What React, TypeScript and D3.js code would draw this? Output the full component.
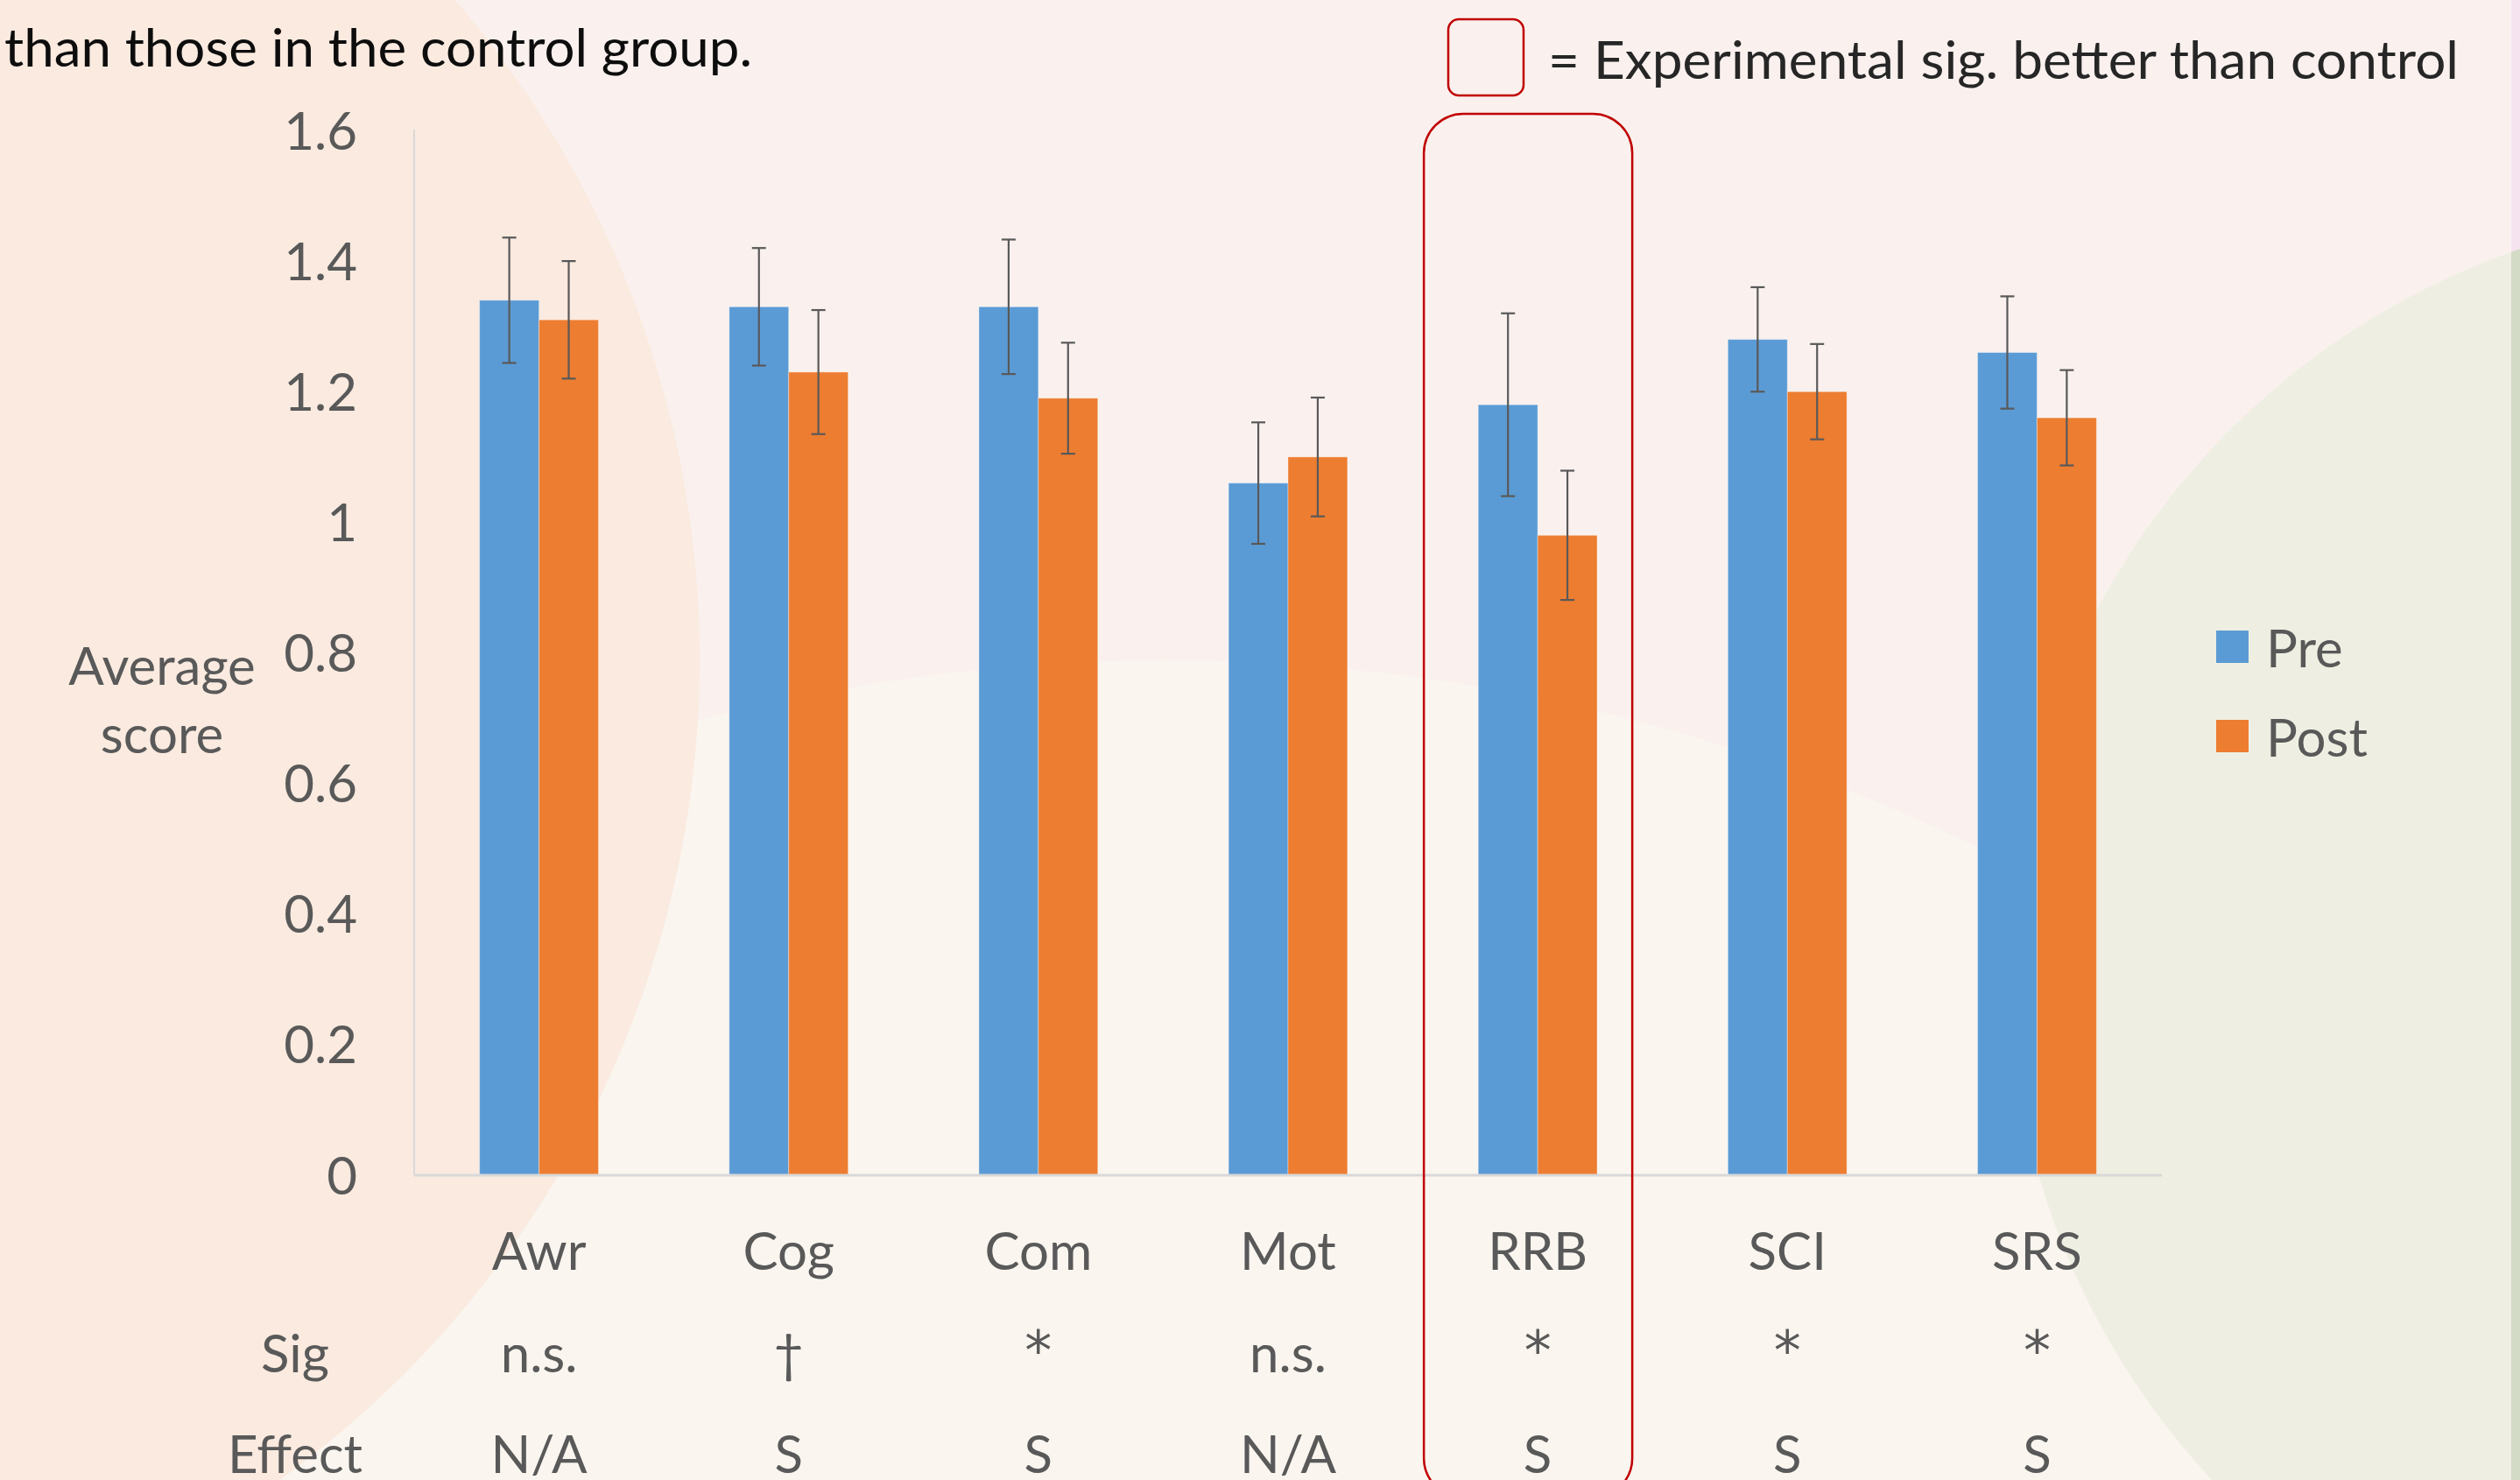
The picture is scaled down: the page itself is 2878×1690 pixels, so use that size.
import { useEffect, useRef } from 'react';
import * as d3 from 'd3';

// values
const categories = ['Awr', 'Cog', 'Com', 'Mot', 'RRB', 'SCI', 'SRS'];
const preValues = [1.34, 1.33, 1.33, 1.06, 1.18, 1.28, 1.26];
const postValues = [1.31, 1.23, 1.19, 1.10, 0.98, 1.20, 1.16];
const preErrors = [0.096, 0.09, 0.103, 0.093, 0.14, 0.08, 0.086];
const postErrors = [0.09, 0.095, 0.085, 0.091, 0.099, 0.073, 0.073];
const sigLabels = ['n.s.', '\u2020', '*', 'n.s.', '*', '*', '*'];
const effectLabels = ['N/A', 'S', 'S', 'N/A', 'S', 'S', 'S'];
const seriesNames = ['Pre', 'Post'];
const yTicks = [0, 0.2, 0.4, 0.6, 0.8, 1, 1.2, 1.4, 1.6];
const highlighted = ['RRB'];

const W = 2878;
const H = 1690;
const FONT = 'Lato, "Open Sans", sans-serif';
const colors = ['#5B9BD5', '#ED7D31'];
const textGray = '#595959';

const App = () => {
    const svgRef = useRef<SVGSVGElement>(null);

    useEffect(() => {
        if (!svgRef.current) return;
        const svg = d3.select(svgRef.current);
        svg.selectAll('*').remove();

        // ---- background shapes
        const defs = svg.append('defs');
        defs.append('clipPath').attr('id', 'strip')
            .append('rect').attr('x', 2868).attr('y', 0).attr('width', 10).attr('height', H);

        svg.append('rect').attr('width', W).attr('height', H).attr('fill', '#FAF1EE');
        svg.append('circle').attr('cx', 1332).attr('cy', 2871).attr('r', 2117).attr('fill', '#FAF5EF');
        svg.append('circle').attr('cx', -356).attr('cy', 753).attr('r', 1155).attr('fill', '#FAEADF');
        svg.append('circle').attr('cx', 3157).attr('cy', 1101).attr('r', 863).attr('fill', '#EEEFE2');
        const strip = svg.append('g').attr('clip-path', 'url(#strip)');
        strip.append('rect').attr('x', 2868).attr('width', 10).attr('height', H).attr('fill', '#F5E4F0');
        strip.append('circle').attr('cx', 3157).attr('cy', 1101).attr('r', 863).attr('fill', '#D3DBC6');

        // ---- scales
        const left = 473;
        const right = 2469;
        const baseline = 1342;
        const top = 149;

        const x = d3.scaleBand().domain(categories).range([left, right]).padding(0);
        const step = x.bandwidth();
        const barW = step / 4.2;
        const sub = d3.scaleBand().domain(seriesNames).range([0, barW * 2]);
        const y = d3.scaleLinear().domain([0, 1.6]).range([baseline, top]);

        const g = svg.append('g');

        // y axis line + labels
        g.append('line')
            .attr('x1', left).attr('x2', left)
            .attr('y1', top - 1).attr('y2', baseline)
            .attr('stroke', '#D9D9D9').attr('stroke-width', 2);

        g.selectAll('.ytick')
            .data(yTicks)
            .enter()
            .append('text')
            .attr('x', 408)
            .attr('y', d => y(d))
            .attr('dy', '0.36em')
            .attr('text-anchor', 'end')
            .attr('font-family', FONT)
            .attr('font-size', 60)
            .attr('fill', textGray)
            .text(d => d3.format('~g')(d));

        // bars
        const rows = categories.map((c, i) => ({
            cat: c,
            vals: [
                { s: 'Pre', v: preValues[i], e: preErrors[i] },
                { s: 'Post', v: postValues[i], e: postErrors[i] },
            ],
        }));

        const groups = g.selectAll('.grp')
            .data(rows)
            .enter()
            .append('g')
            .attr('transform', d => `translate(${(x(d.cat) || 0) + step / 2 - barW},0)`);

        groups.selectAll('rect')
            .data(d => d.vals)
            .enter()
            .append('rect')
            .attr('x', d => sub(d.s) || 0)
            .attr('y', d => y(d.v))
            .attr('width', sub.bandwidth())
            .attr('height', d => baseline - y(d.v))
            .attr('fill', (_, i) => colors[i])
            .attr('stroke', 'rgba(255,255,255,0.35)')
            .attr('stroke-width', 1);

        // error bars
        const eb = groups.selectAll('.err')
            .data(d => d.vals)
            .enter()
            .append('g')
            .attr('transform', d => `translate(${(sub(d.s) || 0) + sub.bandwidth() / 2},0)`)
            .attr('stroke', '#595959')
            .attr('stroke-width', 2.2);
        eb.append('line').attr('y1', d => y(d.v + d.e)).attr('y2', d => y(d.v - d.e));
        eb.append('line').attr('x1', -8).attr('x2', 8).attr('y1', d => y(d.v + d.e)).attr('y2', d => y(d.v + d.e));
        eb.append('line').attr('x1', -8).attr('x2', 8).attr('y1', d => y(d.v - d.e)).attr('y2', d => y(d.v - d.e));

        // x axis line
        g.append('line')
            .attr('x1', left).attr('x2', right)
            .attr('y1', baseline).attr('y2', baseline)
            .attr('stroke', '#D9D9D9').attr('stroke-width', 3);

        // category labels + sig / effect rows
        const rowText = (data: string[], yy: number) => {
            g.selectAll(null)
                .data(data)
                .enter()
                .append('text')
                .attr('x', (_, i) => (x(categories[i]) || 0) + step / 2)
                .attr('y', d => (d === '*' ? yy - 3 : yy))
                .attr('text-anchor', 'middle')
                .attr('font-family', d => (d === '*' ? '"DejaVu Sans", sans-serif' : FONT))
                .attr('font-size', d => (d === '*' ? 62 : 60))
                .attr('fill', textGray)
                .text(d => d);
        };
        rowText(categories, 1450);
        rowText(sigLabels, 1567);
        rowText(effectLabels, 1682);

        [['Sig', 1567], ['Effect', 1682]].forEach(([t, yy]) => {
            g.append('text')
                .attr('x', 337).attr('y', yy as number)
                .attr('text-anchor', 'middle')
                .attr('font-family', FONT).attr('font-size', 60)
                .attr('fill', textGray)
                .text(t as string);
        });

        // y axis title
        const yt = g.append('text')
            .attr('text-anchor', 'middle')
            .attr('font-family', FONT).attr('font-size', 60)
            .attr('fill', textGray);
        yt.append('tspan').attr('x', 185).attr('y', 782).text('Average');
        yt.append('tspan').attr('x', 185).attr('y', 860).text('score');

        // legend
        const leg = g.selectAll('.leg')
            .data(seriesNames)
            .enter()
            .append('g')
            .attr('transform', (_, i) => `translate(2531,${720 + i * 102})`);
        leg.append('rect').attr('width', 37).attr('height', 37).attr('fill', (_, i) => colors[i]);
        leg.append('text')
            .attr('x', 57).attr('y', 42)
            .attr('font-family', FONT).attr('font-size', 60)
            .attr('fill', textGray)
            .text(d => d);

        // highlight boxes around significant categories
        highlighted.forEach(c => {
            const cx = (x(c) || 0) + step / 2;
            svg.append('rect')
                .attr('x', cx - 130).attr('y', 130)
                .attr('width', 238).attr('height', 1580)
                .attr('rx', 45).attr('ry', 45)
                .attr('fill', 'none')
                .attr('stroke', '#C00000').attr('stroke-width', 2.5);
        });

        // key for the highlight box
        svg.append('rect')
            .attr('x', 1654).attr('y', 22).attr('width', 86).attr('height', 87)
            .attr('rx', 12).attr('ry', 12)
            .attr('fill', 'none').attr('stroke', '#C00000').attr('stroke-width', 2.5);
        svg.append('text')
            .attr('x', 1768).attr('y', 90)
            .attr('font-family', FONT).attr('font-size', 60)
            .attr('fill', '#262626')
            .attr('textLength', 1040).attr('lengthAdjust', 'spacingAndGlyphs')
            .text('= Experimental sig. better than control');

        // slide text
        svg.append('text')
            .attr('x', 5).attr('y', 76)
            .attr('font-family', FONT).attr('font-size', 60)
            .attr('fill', '#0D0D0D')
            .attr('textLength', 854).attr('lengthAdjust', 'spacingAndGlyphs')
            .text('than those in the control group.');
    }, []);

    return (
        <svg
            ref={svgRef}
            width={W}
            height={H}
            style={{ position: 'absolute', left: 0, top: 0, display: 'block' }}
        />
    );
};

export default App;
